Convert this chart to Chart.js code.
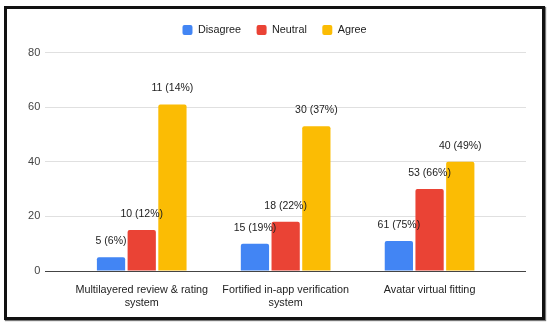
<!DOCTYPE html>
<html>
<head>
<meta charset="utf-8">
<script src="https://cdn.jsdelivr.net/npm/chart.js@4"></script>
<style>
    body { margin: 0; background: #fff; }
    #marco {
        position: absolute; left: 4px; top: 6px;
        width: 535px; height: 308px;
        border: 3px solid #111;
        box-shadow: 1px 1px 1px #777;
    }
</style>
</head>
<body>
<div id="marco"><canvas id="grafico" width="535" height="308"></canvas></div>
<script>
const categorias = [
    ['Multilayered review & rating', 'system'],
    ['Fortified in-app verification', 'system'],
    'Avatar virtual fitting'
];
const series = ['Disagree', 'Neutral', 'Agree'];
const colores = ['#4285F4', '#EA4335', '#FBBC04'];

// alturas de las barras tal como aparecen
const valoresDisagree = [5, 10, 11];
const valoresNeutral = [15, 18, 30];
const valoresAgree = [61, 53, 40];

// etiquetas escritas sobre cada barra
const etiquetasDisagree = ['5 (6%)', '15 (19%)', '61 (75%)'];
const etiquetasNeutral = ['10 (12%)', '18 (22%)', '53 (66%)'];
const etiquetasAgree = ['11 (14%)', '30 (37%)', '40 (49%)'];

const ticksY = [0, 20, 40, 60, 80];

const valores = [valoresDisagree, valoresNeutral, valoresAgree];
const etiquetas = [etiquetasDisagree, etiquetasNeutral, etiquetasAgree];
const fuente = '"Liberation Sans", Arial, sans-serif';

// dibuja el texto encima de cada barra
const pluginEtiquetas = {
    id: 'etiquetas',
    afterDatasetsDraw(chart) {
        const ctx = chart.ctx;
        ctx.save();
        ctx.font = '10.5px ' + fuente;
        ctx.fillStyle = '#222';
        ctx.textAlign = 'center';
        ctx.textBaseline = 'middle';
        chart.data.datasets.forEach((ds, i) => {
            chart.getDatasetMeta(i).data.forEach((barra, j) => {
                ctx.fillText(etiquetas[i][j], barra.x, barra.y - 16);
            });
        });
        ctx.restore();
    }
};

new Chart(document.getElementById('grafico'), {
    type: 'bar',
    data: {
        labels: categorias,
        datasets: series.map((nombre, i) => ({
            label: nombre,
            data: valores[i],
            backgroundColor: colores[i],
            borderRadius: 2,
            categoryPercentage: 0.64,
            barPercentage: 0.92
        }))
    },
    options: {
        responsive: false,
        animation: false,
        layout: { padding: { top: 0, left: 16, right: 16, bottom: 0 } },
        plugins: {
            legend: {
                position: 'top',
                labels: {
                    boxWidth: 10,
                    boxHeight: 10,
                    padding: 15.5,
                    useBorderRadius: true,
                    borderRadius: 2,
                    color: '#222',
                    font: { family: fuente, size: 10.8 }
                }
            },
            // solo sirve de espacio entre la leyenda y el gráfico
            title: {
                display: true,
                text: '',
                weight: 500,
                font: { size: 1, lineHeight: 1 },
                padding: { top: 0, bottom: 6.2 }
            },
            tooltip: { enabled: false }
        },
        scales: {
            x: {
                grid: { display: false },
                border: { display: false },
                ticks: {
                    color: '#222',
                    font: { family: fuente, size: 10.8 },
                    padding: 5,
                    maxRotation: 0,
                    autoSkip: false
                },
                afterBuildTicks: (eje) => {
                    // margen extra a los lados de las categorías
                    eje._startValue = -0.67;
                    eje._valueRange = 3.34;
                },
                afterFit: (eje) => { eje.height = 46; }
            },
            y: {
                min: ticksY[0],
                max: ticksY[ticksY.length - 1],
                border: { display: false },
                grid: {
                    drawTicks: false,
                    color: (c) => c.tick && c.tick.value === 0 ? '#444' : '#e0e0e0'
                },
                ticks: {
                    stepSize: ticksY[1] - ticksY[0],
                    color: '#444',
                    padding: 5,
                    font: { family: fuente, size: 11 }
                },
                afterFit: (eje) => { eje.width = 22.3; }
            }
        }
    },
    plugins: [pluginEtiquetas]
});
</script>
</body>
</html>
